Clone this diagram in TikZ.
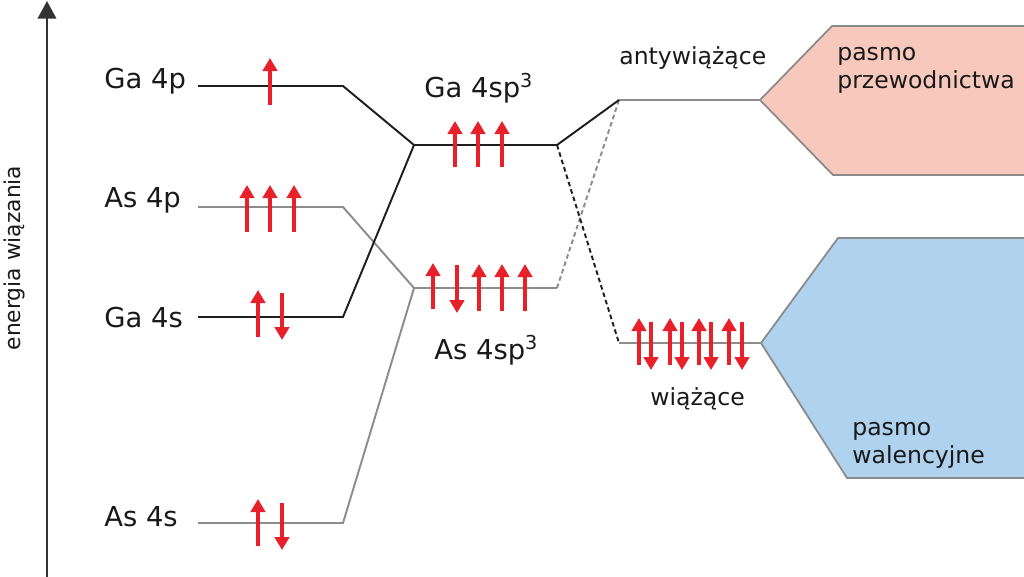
\documentclass[tikz,border=0pt]{standalone}
\usepackage{fontspec}
\setmainfont{DejaVu Sans}
\usetikzlibrary{arrows.meta}
\definecolor{lvlblack}{HTML}{1E1E1E}
\definecolor{lvlgray}{HTML}{8C8C8C}
\definecolor{elred}{HTML}{E8202A}
\definecolor{bandpink}{HTML}{F7C9BC}
\definecolor{bandblue}{HTML}{AFD2EF}
\definecolor{bandedge}{HTML}{8A8A8A}
\definecolor{axisgray}{HTML}{333333}
\tikzset{
  lvlA/.style={draw=lvlblack, line width=1.1pt},
  lvlB/.style={draw=lvlgray, line width=1.1pt},
  dashA/.style={draw=lvlblack, line width=1.1pt, dash pattern=on 2.6pt off 1.8pt},
  dashB/.style={draw=lvlgray, line width=1.1pt, dash pattern=on 2.6pt off 1.8pt},
  spin/.style={draw=elred, line width=2.2pt, -{Triangle[length=7.4pt,width=8.2pt]}},
  biglab/.style={inner sep=0pt, text=black!90, font=\fontsize{15.6}{18}\selectfont},
  smalllab/.style={inner sep=0pt, text=black!90, font=\fontsize{13.4}{16}\selectfont},
  band/.style={draw=bandedge, line width=1pt},
}
\newcommand{\spinu}[3]{\draw[spin] (#1,#2) -- (#1,#3);}
\begin{document}
\begin{tikzpicture}[x=0.02cm,y=-0.02cm]
\useasboundingbox (0,0) rectangle (1024,576);

% bands
\draw[band, fill=bandpink] (760,100) -- (832,26) -- (1030,26) -- (1030,175) -- (833,175) -- cycle;
\draw[band, fill=bandblue] (761,343) -- (838,238) -- (1030,238) -- (1030,478) -- (847,478) -- cycle;

% energy axis
\coordinate (axB) at (47,578);
\coordinate (axT) at (47,1);
\draw[draw=axisgray, line width=1.2pt, -{Triangle[length=10pt,width=10.5pt]}] (axB) -- (axT);
\node[inner sep=0pt, rotate=90, text=black!90, font=\fontsize{12.4}{14}\selectfont] (axlab) at (14,258) {energia wiązania};

% level coordinates
\coordinate (Ga4pL) at (198,86);  \coordinate (Ga4pR) at (343,86);
\coordinate (As4pL) at (198,207); \coordinate (As4pR) at (343,207);
\coordinate (Ga4sL) at (198,317); \coordinate (Ga4sR) at (343,317);
\coordinate (As4sL) at (198,523); \coordinate (As4sR) at (343,523);
\coordinate (GaspL) at (414,145); \coordinate (GaspR) at (557,145);
\coordinate (AsspL) at (414,288); \coordinate (AsspR) at (557,288);
\coordinate (antiL) at (619,100); \coordinate (antiR) at (760,100);
\coordinate (bondL) at (619,343); \coordinate (bondR) at (761,343);

% levels and connectors
\draw[lvlB] (As4pL) -- (As4pR) -- (AsspL);
\draw[lvlB] (As4sL) -- (As4sR) -- (AsspL);
\draw[lvlB] (AsspL) -- (AsspR);
\draw[lvlA] (Ga4pL) -- (Ga4pR) -- (GaspL);
\draw[lvlA] (Ga4sL) -- (Ga4sR) -- (GaspL);
\draw[lvlA] (GaspL) -- (GaspR);
\draw[lvlB] (antiL) -- (antiR);
\draw[lvlB] (bondL) -- (bondR);
\draw[dashB] (AsspR) -- (antiL);
\draw[lvlA] (GaspR) -- (antiL);
\draw[dashA] (GaspR) -- (bondL);

% labels
\node[biglab, anchor=base west] (tGa4p) at (104,88) {Ga 4p};
\node[biglab, anchor=base west] (tAs4p) at (104,207) {As 4p};
\node[biglab, anchor=base west] (tGa4s) at (104,327) {Ga 4s};
\node[biglab, anchor=base west] (tAs4s) at (104,526) {As 4s};
\node[biglab, anchor=base west] (tGasp) at (424,97) {Ga 4sp\textsuperscript{3}};
\node[biglab, anchor=base west] (tAssp) at (434,359) {As 4sp\textsuperscript{3}};
\node[smalllab, anchor=base west] (tanti) at (619,64) {antywiążące};
\node[smalllab, anchor=base west] (tbond) at (650,405) {wiążące};
\node[smalllab, anchor=base west] (tcb1) at (837,60) {pasmo};
\node[smalllab, anchor=base west] (tcb2) at (837,88) {przewodnictwa};
\node[smalllab, anchor=base west] (tvb1) at (852,435) {pasmo};
\node[smalllab, anchor=base west] (tvb2) at (852,463) {walencyjne};

% electrons
\spinu{270}{105}{58}
\foreach \x in {247,270,294} {\spinu{\x}{232}{185}}
\spinu{258}{337}{290}
\spinu{282}{293}{340}
\spinu{258}{546}{499}
\spinu{282}{503}{550}
\foreach \x in {455,478,502} {\spinu{\x}{167}{121}}
\spinu{433}{309}{263}
\spinu{457}{265}{313}
\foreach \x in {479,502,525} {\spinu{\x}{311}{264}}
\foreach \x in {639,670,699,729} {\spinu{\x}{365}{318}}
\foreach \x in {651,682,711,742} {\spinu{\x}{322}{370}}
\end{tikzpicture}
\end{document}
